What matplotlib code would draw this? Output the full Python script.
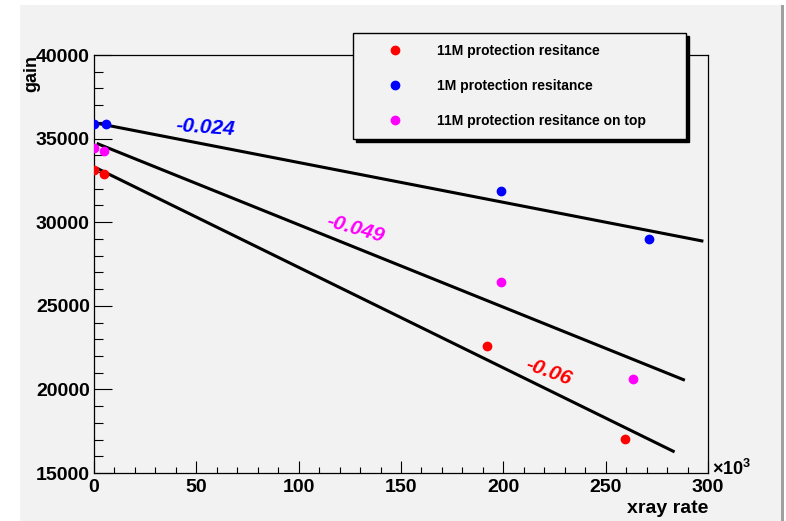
import matplotlib
matplotlib.use("Agg")
import numpy as np
import matplotlib.pyplot as plt
from matplotlib.patches import Rectangle
from matplotlib.ticker import MultipleLocator

plt.rcParams['font.family'] = ['Liberation Sans', 'DejaVu Sans']
plt.rcParams['font.weight'] = 'bold'
plt.rcParams['mathtext.fontset'] = 'custom'
plt.rcParams['mathtext.rm'] = 'Liberation Sans'
plt.rcParams['mathtext.bf'] = 'Liberation Sans:bold'

# xray rate in units of 10^3, gain
series_labels = ["11M protection resitance", "1M protection resitance",
                 "11M protection resitance on top"]
series_colors = ["#ff0000", "#0000ff", "#ff00ff"]

rate_red = [0, 4.9, 192.0, 259.4]
gain_red = [33130, 32890, 22620, 17060]
rate_blue = [0, 5.9, 198.8, 271.1]
gain_blue = [35880, 35880, 31880, 29010]
rate_mag = [0, 4.9, 198.8, 263.3]
gain_mag = [34440, 34270, 26440, 20650]

# linear fits: gain = const + slope * rate (rate in real units)
fit_const = [33310, 35950, 34780]
fit_slope = [-0.0601, -0.0238, -0.0493]
fit_xmin = [2, 3, 2]
fit_xmax = [283, 297, 288]

slope_text = ["-0.06", "-0.024", "-0.049"]
text_x = [211, 40, 114]
text_y = [21540, 35760, 30080]
text_rot = [-20, -4, -16]

fig = plt.figure(figsize=(7.86, 5.21), dpi=100, facecolor='white')
fig.patches.append(Rectangle((20 / 786, 0), (781 - 20) / 786, 1 - 5 / 521,
                             transform=fig.transFigure, facecolor='#f2f2f2',
                             edgecolor='none', zorder=-10))
fig.patches.append(Rectangle((781 / 786, 0), 3 / 786, 1 - 5 / 521,
                             transform=fig.transFigure, facecolor='#a0a0a0',
                             edgecolor='none', zorder=-10))

ax = fig.add_axes([94 / 786, 1 - 473 / 521, 614 / 786, 418 / 521])
ax.set_facecolor('#f2f2f2')

rates = [rate_red, rate_blue, rate_mag]
gains = [gain_red, gain_blue, gain_mag]
for r, g, c, lab in zip(rates, gains, series_colors, series_labels):
    ax.plot(r, g, 'o', color=c, ms=6, label=lab, zorder=3)

for i in range(3):
    xs = np.array([fit_xmin[i], fit_xmax[i]])
    ys = fit_const[i] + fit_slope[i] * 1000 * xs
    ax.plot(xs, ys, color='black', lw=2.2, zorder=2)
    ax.text(text_x[i], text_y[i], slope_text[i], color=series_colors[i],
            fontsize=15, fontweight='bold', fontstyle='italic',
            rotation=text_rot[i], rotation_mode='anchor',
            ha='left', va='center', zorder=4)

ax.set_xlim(0, 300)
ax.set_ylim(15000, 40000)
ax.xaxis.set_major_locator(MultipleLocator(50))
ax.xaxis.set_minor_locator(MultipleLocator(10))
ax.yaxis.set_major_locator(MultipleLocator(5000))
ax.yaxis.set_minor_locator(MultipleLocator(1000))
ax.tick_params(axis='x', which='major', direction='in', length=8.6, width=0.8,
               labelsize=14, pad=4)
ax.tick_params(axis='x', which='minor', direction='in', length=4.3, width=0.8)
ax.tick_params(axis='y', which='major', direction='in', length=13, width=0.8,
               labelsize=14, pad=3)
ax.tick_params(axis='y', which='minor', direction='in', length=6.5, width=0.8)
for sp in ax.spines.values():
    sp.set_linewidth(0.9)

ax.set_xlabel('xray rate', loc='right', fontsize=14, fontweight='bold')
ax.xaxis.set_label_coords(1.0, -0.064)
ax.set_ylabel('gain', loc='top', fontsize=13, fontweight='bold')
ax.yaxis.set_label_coords(-0.088, 1.0)
ax.text(1.0065, 0.01, r'$\times\mathbf{10^{3}}$', transform=ax.transAxes,
        fontsize=13, ha='left', va='center')

ax.legend(loc='upper left',
          bbox_to_anchor=((353 - 94) / 614, (473 - 138) / 418,
                          (686 - 353) / 614, (138 - 33) / 418),
          mode='expand', borderaxespad=0, fontsize=10, labelspacing=1.52,
          borderpad=0.8, handlelength=4.5, handletextpad=0.75,
          fancybox=False, edgecolor='black', facecolor='#f2f2f2',
          framealpha=1, shadow={'color': 'black', 'alpha': 1})
ax.get_legend().get_frame().set_linewidth(1.0)

fig.savefig("out.png", dpi=100, facecolor=fig.get_facecolor())
